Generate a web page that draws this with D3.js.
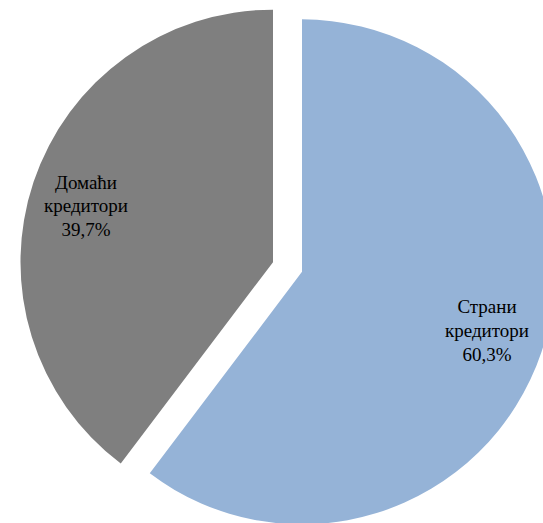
<!DOCTYPE html>
<html>
<head>
<meta charset="utf-8">
<script src="https://cdn.jsdelivr.net/npm/d3@7"></script>
<style>
  html, body { margin: 0; padding: 0; background: #fff; overflow: hidden; }
  svg { display: block; }
</style>
</head>
<body>
<svg id="chart" width="543" height="523"></svg>
<script>
const categories = ["Страни кредитори", "Домаћи кредитори"];
const labelLines = [["Страни", "кредитори"], ["Домаћи", "кредитори"]];
const values = [60.3, 39.7];
const valueLabels = ["60,3%", "39,7%"];
const colors = ["#95b3d7", "#7f7f7f"];

const W = 543, H = 523;
const cx = 287.5, cy = 267, R = 252.5, explode = 15.3;

const svg = d3.select("#chart");
const g = svg.append("g").attr("transform", `translate(${cx},${cy})`);

const pie = d3.pie().sort(null).value(d => d.value).startAngle(0).endAngle(2 * Math.PI);
const data = categories.map((c, i) => ({ name: c, value: values[i], i }));
const arcs = pie(data);
const arc = d3.arc().innerRadius(0).outerRadius(R);

const slice = g.selectAll("g.slice").data(arcs).enter().append("g")
  .attr("class", "slice")
  .attr("transform", d => {
    const a = (d.startAngle + d.endAngle) / 2;
    return `translate(${explode * Math.sin(a)},${-explode * Math.cos(a)})`;
  });

slice.append("path")
  .attr("d", arc)
  .attr("fill", d => colors[d.data.i]);

const labelR = 194.5;
const labelNudge = [[0.6, -2.7], [-2.6, 6.2]];
slice.each(function(d) {
  const a = (d.startAngle + d.endAngle) / 2;
  const x = labelR * Math.sin(a) + labelNudge[d.data.i][0];
  const y = -labelR * Math.cos(a) + labelNudge[d.data.i][1];
  const lines = labelLines[d.data.i].concat([valueLabels[d.data.i]]);
  const t = d3.select(this).append("text")
    .attr("text-anchor", "middle")
    .attr("font-family", "'Liberation Serif', 'Times New Roman', serif")
    .attr("font-size", 19)
    .attr("fill", "#000");
  lines.forEach((ln, k) => {
    t.append("tspan").attr("x", x).attr("y", y + (k - 1) * 23.8 + 6).text(ln);
  });
});
</script>
</body>
</html>
